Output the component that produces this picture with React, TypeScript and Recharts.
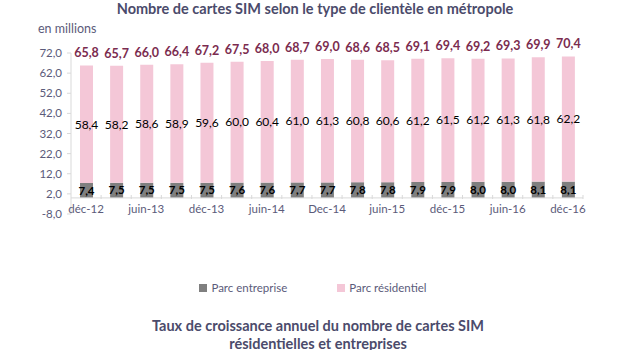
import { BarChart, Bar, XAxis, YAxis, ReferenceLine, Legend, LabelList } from 'recharts';

// Nombre de cartes SIM (millions) par trimestre
const categories = [
  'déc-12', 'mars-13', 'juin-13', 'sept-13', 'déc-13', 'mars-14', 'juin-14', 'sept-14', 'Dec-14',
  'mars-15', 'juin-15', 'sept-15', 'déc-15', 'mars-16', 'juin-16', 'sept-16', 'déc-16',
];
const parcEntreprise = [7.4, 7.5, 7.5, 7.5, 7.5, 7.6, 7.6, 7.7, 7.7, 7.8, 7.8, 7.9, 7.9, 8.0, 8.0, 8.1, 8.1];
const parcResidentiel = [58.4, 58.2, 58.6, 58.9, 59.6, 60.0, 60.4, 61.0, 61.3, 60.8, 60.6, 61.2, 61.5, 61.2, 61.3, 61.8, 62.2];
const totals = [65.8, 65.7, 66.0, 66.4, 67.2, 67.5, 68.0, 68.7, 69.0, 68.6, 68.5, 69.1, 69.4, 69.2, 69.3, 69.9, 70.4];
const yTicks = [-8, 2, 12, 22, 32, 42, 52, 62, 72];

const FONT = 'Lato, "Open Sans", sans-serif';
const TEXT = '#5b5b7a';
const TITLE = '#4b4b6b';
const GRIS = '#7f7f7f';
const ROSE = '#f4c7d7';
const AXE = '#d9d9d9';

const fr = (v: number) => v.toFixed(1).replace('.', ',');

const data = categories.map((name, i) => ({
  name,
  entreprise: parcEntreprise[i],
  residentiel: parcResidentiel[i],
  total: totals[i],
}));

// tick de l'axe X : libellé un trimestre sur deux + petit trait entre les catégories
const XTick = (props: any) => {
  const { x, y, index, payload } = props;
  const half = payload?.offset ?? 15;
  return (
    <g>
      <line x1={x + half} x2={x + half} y1={y - 19} y2={y - 15} stroke={AXE} />
      {index % 2 === 0 && (
        <text x={x} y={y - 1.5} textAnchor="middle" fill={TEXT} fontSize={11.5} fontFamily={FONT}>
          {payload.value}
        </text>
      )}
    </g>
  );
};

const LegendContent = () => (
  <div style={{ display: 'flex', justifyContent: 'center', gap: 50, fontFamily: FONT, fontSize: 11.5, color: TEXT, paddingLeft: 6 }}>
    <span style={{ display: 'flex', alignItems: 'center' }}>
      <span style={{ width: 8, height: 8, background: GRIS, marginRight: 4, display: 'inline-block' }} />
      Parc entreprise
    </span>
    <span style={{ display: 'flex', alignItems: 'center' }}>
      <span style={{ width: 8, height: 8, background: ROSE, marginRight: 4, display: 'inline-block' }} />
      Parc résidentiel
    </span>
  </div>
);

export default function App() {
  return (
    <div style={{ position: 'absolute', left: 0, top: 0, width: 620, height: 350, background: '#fff', overflow: 'hidden', fontFamily: FONT }}>
      <div style={{ position: 'absolute', top: 0, left: 0, width: 630, textAlign: 'center', fontWeight: 700, fontSize: 14.5, color: TITLE }}>
        Nombre de cartes SIM selon le type de clientèle en métropole
      </div>
      <div style={{ position: 'absolute', top: 21, left: 38, fontSize: 12.5, color: TEXT }}>en millions</div>

      <BarChart
        width={620}
        height={350}
        data={data}
        margin={{ top: 53, right: 37, left: 0, bottom: 103 }}
        barSize={13}
      >
        <YAxis
          width={71}
          domain={[-8, 72]}
          ticks={yTicks}
          tickFormatter={fr}
          tick={{ fill: TEXT, fontSize: 11.5, fontFamily: FONT }}
          axisLine={{ stroke: AXE }}
          tickLine={{ stroke: AXE }}
          tickSize={4}
          tickMargin={5}
          interval={0}
        />
        <XAxis
          dataKey="name"
          interval={0}
          axisLine={false}
          tickLine={false}
          tickSize={0}
          tickMargin={0}
          height={20}
          tick={<XTick />}
        />
        <ReferenceLine y={0} stroke={AXE} />
        <Legend
          verticalAlign="bottom"
          content={<LegendContent />}
          wrapperStyle={{ top: 281, left: 0, width: 620 }}
        />
        <Bar dataKey="entreprise" name="Parc entreprise" stackId="a" fill={GRIS} isAnimationActive={false}>
          <LabelList
            dataKey="entreprise"
            position="center"
            formatter={(v: any) => fr(Number(v))}
            style={{ fill: '#000', fontSize: 11.5, fontWeight: 700, fontFamily: FONT }}
          />
        </Bar>
        <Bar dataKey="residentiel" name="Parc résidentiel" stackId="a" fill={ROSE} isAnimationActive={false}>
          <LabelList
            dataKey="residentiel"
            position="center"
            formatter={(v: any) => fr(Number(v))}
            style={{ fill: '#000', fontSize: 12, fontFamily: FONT }}
          />
          <LabelList
            dataKey="total"
            position="top"
            offset={8}
            formatter={(v: any) => fr(Number(v))}
            style={{ fill: '#7b2c4f', fontSize: 12.5, fontWeight: 700, fontFamily: FONT }}
          />
        </Bar>
      </BarChart>

      <div style={{ position: 'absolute', top: 317, left: 0, width: 636, textAlign: 'center', fontWeight: 700, fontSize: 14.5, color: TITLE, lineHeight: '18px' }}>
        Taux de croissance annuel du nombre de cartes SIM
        <br />
        résidentielles et entreprises
      </div>
    </div>
  );
}
